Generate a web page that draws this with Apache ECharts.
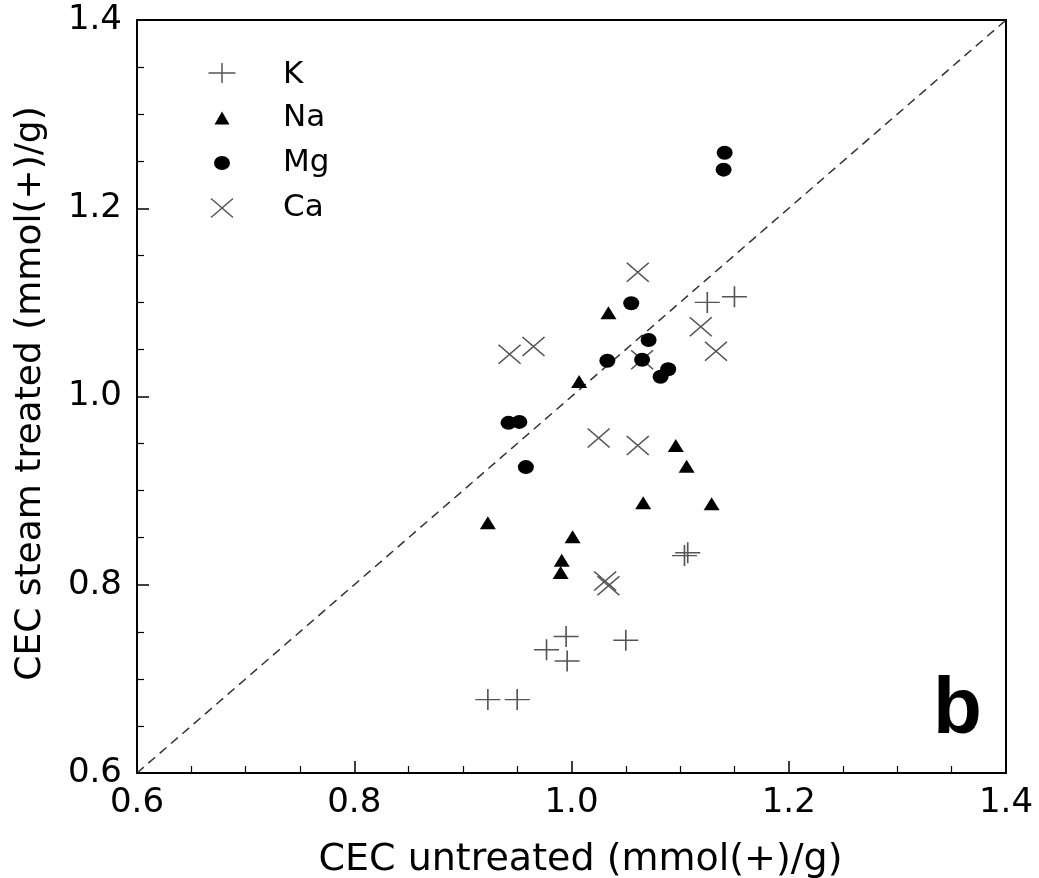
<!DOCTYPE html>
<html>
<head>
<meta charset="utf-8">
<script src="https://cdn.jsdelivr.net/npm/echarts@6/dist/echarts.min.js"></script>
<style>
html,body{margin:0;padding:0;background:#fff;}
#chart{width:1039px;height:878px;}
</style>
</head>
<body>
<div id="chart"></div>
<script>
// ---- data (CEC untreated, CEC steam treated) in mmol(+)/g ----
var kData = [[0.923,0.678],[0.950,0.678],[0.977,0.731],[0.995,0.745],[0.996,0.719],[1.050,0.741],[1.104,0.831],[1.107,0.834],[1.125,1.100],[1.150,1.106]];
var naData = [[0.923,0.866],[1.001,0.851],[0.991,0.826],[0.990,0.813],[1.066,0.887],[1.129,0.886],[1.096,0.948],[1.106,0.926],[1.007,1.016],[1.034,1.089]];
var mgData = [[1.141,1.259],[1.140,1.241],[1.055,1.099],[1.071,1.060],[1.033,1.038],[1.065,1.039],[1.089,1.029],[1.082,1.021],[0.942,0.972],[0.952,0.973],[0.958,0.925]];
var caData = [[1.061,1.132],[0.943,1.045],[0.965,1.053],[1.119,1.074],[1.133,1.048],[1.025,0.956],[1.061,0.948],[1.065,1.039],[1.031,0.804],[1.034,0.799]];
var diagLine = [[0.6,0.6],[1.4,1.4]];
var seriesNames = ['K','Na','Mg','Ca'];
var xTitle = 'CEC untreated (mmol(+)/g)';
var yTitle = 'CEC steam treated (mmol(+)/g)';
var panelLetter = 'b';

var PLUS_D = 'M0,10L26,10M13,0L13,20';
var CROSS_D = 'M0,0L22,19M22,0L0,19';
var TRI_D = 'M8,0L16,13L0,13Z';
var ELL_D = 'M0,7A8,7 0 1,1 16,7A8,7 0 1,1 0,7Z';

var FONT = 'DejaVu Sans';
var GREY = '#555';
var chart = echarts.init(document.getElementById('chart'), null, {renderer:'canvas'});

// legend drawn as graphic items (icon + label)
var LX = 222;
var legendSpec = [
  {name: seriesNames[0], kind: 'plus', w: 27, h: 20, cy: 73},
  {name: seriesNames[1], kind: 'tri', w: 15, h: 13, cy: 118},
  {name: seriesNames[2], kind: 'ell', w: 16, h: 14, cy: 163},
  {name: seriesNames[3], kind: 'cross', w: 22, h: 19, cy: 208}
];
var lineStyleG = {stroke: GREY, lineWidth: 1.5};
var legendGraphics = [];
legendSpec.forEach(function (it) {
  var hw = it.w / 2, hh = it.h / 2, cy = it.cy;
  if (it.kind === 'plus') {
    legendGraphics.push({type: 'line', silent: true, z: 10, shape: {x1: LX - hw, y1: cy, x2: LX + hw, y2: cy}, style: lineStyleG});
    legendGraphics.push({type: 'line', silent: true, z: 10, shape: {x1: LX, y1: cy - hh, x2: LX, y2: cy + hh}, style: lineStyleG});
  } else if (it.kind === 'cross') {
    legendGraphics.push({type: 'line', silent: true, z: 10, shape: {x1: LX - hw, y1: cy - hh, x2: LX + hw, y2: cy + hh}, style: lineStyleG});
    legendGraphics.push({type: 'line', silent: true, z: 10, shape: {x1: LX + hw, y1: cy - hh, x2: LX - hw, y2: cy + hh}, style: lineStyleG});
  } else if (it.kind === 'tri') {
    legendGraphics.push({type: 'polygon', silent: true, z: 10, shape: {points: [[LX, cy - hh], [LX + hw, cy + hh], [LX - hw, cy + hh]]}, style: {fill: '#000'}});
  } else {
    legendGraphics.push({type: 'circle', silent: true, z: 10, x: LX, y: cy, scaleX: it.w / it.h, shape: {cx: 0, cy: 0, r: hh}, style: {fill: '#000'}});
  }
  legendGraphics.push({
    type: 'text', silent: true, z: 10, x: 283, y: cy + (it.name === 'K' ? 2 : 0),
    style: {text: it.name, font: '31px "' + FONT + '"', fill: '#000', verticalAlign: 'middle', align: 'left'}
  });
});

var option = {
  animation: false,
  backgroundColor: '#fff',
  grid: {left: 137, right: 33, top: 20, bottom: 105, containLabel: false, outerBoundsMode: 'none',
         show: true, borderColor: '#000', borderWidth: 2, backgroundColor: 'transparent'},
  xAxis: {
    type: 'value', min: 0.6, max: 1.4, interval: 0.2,
    name: xTitle, nameLocation: 'middle', nameGap: 68,
    nameTextStyle: {fontFamily: FONT, fontSize: 38, color: '#000', padding: [0,0,0,18]},
    axisLine: {show: true, lineStyle: {color: '#000', width: 2}},
    axisTick: {show: true, inside: true, length: 12, lineStyle: {color: '#000', width: 1.5}},
    minorTick: {show: true, splitNumber: 4, length: 7, lineStyle: {color: '#000', width: 1.2}},
    splitLine: {show: false},
    axisLabel: {fontFamily: FONT, fontSize: 34, color: '#000', margin: 13, formatter: function(v){return v.toFixed(1);}}
  },
  yAxis: {
    type: 'value', min: 0.6, max: 1.4, interval: 0.2,
    name: yTitle, nameLocation: 'middle', nameGap: 88,
    nameTextStyle: {fontFamily: FONT, fontSize: 36, color: '#000', padding: [0,0,0,6]},
    axisLine: {show: true, lineStyle: {color: '#000', width: 2}},
    axisTick: {show: true, inside: true, length: 12, lineStyle: {color: '#000', width: 1.5}},
    minorTick: {show: true, splitNumber: 4, length: 7, lineStyle: {color: '#000', width: 1.2}},
    splitLine: {show: false},
    axisLabel: {fontFamily: FONT, fontSize: 34, color: '#000', margin: 15, formatter: function(v){return v.toFixed(1);}}
  },
  graphic: [{
    type: 'text', left: 933, top: 671, silent: true,
    style: {text: panelLetter, font: 'bold 80px "Liberation Sans"', fill: '#000'}
  }].concat(legendGraphics),
  series: [
    {type: 'line', data: diagLine, symbol: 'none', silent: true, z: 1,
     lineStyle: {color: '#333', width: 1.5, type: [9, 6]}},
    {name: seriesNames[0], type: 'scatter', data: kData, symbol: 'path://' + PLUS_D, symbolSize: [25, 21], z: 2,
     itemStyle: {color: GREY, borderColor: GREY, borderWidth: 1.5, opacity: 1}},
    {name: seriesNames[1], type: 'scatter', data: naData, symbol: 'path://' + TRI_D, symbolSize: [16, 13], z: 3,
     itemStyle: {color: '#000', borderWidth: 0, opacity: 1}},
    {name: seriesNames[3], type: 'scatter', data: caData, symbol: 'path://' + CROSS_D, symbolSize: [22, 19], z: 2,
     itemStyle: {color: GREY, borderColor: GREY, borderWidth: 1.5, opacity: 1}},
    {name: seriesNames[2], type: 'scatter', data: mgData, symbol: 'path://' + ELL_D, symbolSize: [16, 14], z: 4,
     itemStyle: {color: '#000', borderWidth: 0, opacity: 1}}
  ]
};
chart.setOption(option);
</script>
</body>
</html>
